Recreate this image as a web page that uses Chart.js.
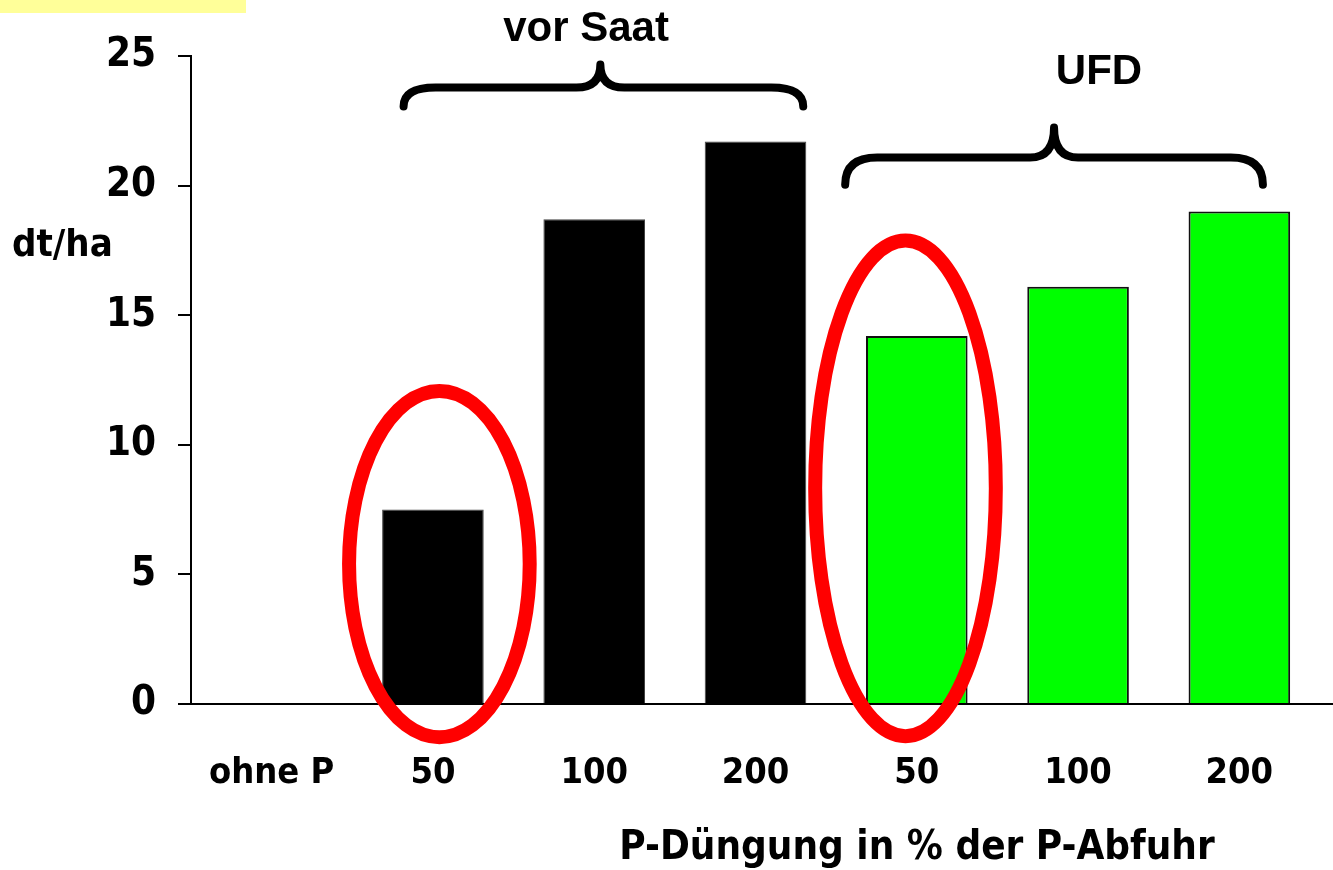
<!DOCTYPE html>
<html>
<head>
<meta charset="utf-8">
<script src="https://cdn.jsdelivr.net/npm/chart.js@4/dist/chart.umd.min.js"></script>
<style>
  html, body { margin: 0; padding: 0; background: #ffffff; }
  #wrap { position: relative; width: 1333px; height: 870px; }
</style>
</head>
<body>
<div id="wrap"><canvas id="c" width="1333" height="870"></canvas></div>
<script>
// Ertrag (dt/ha) nach P-Düngung in % der P-Abfuhr
const categories = ['ohne P', '50', '100', '200', '50', '100', '200'];
const vorSaat    = [null, 7.5, 18.7, 21.7, null, null, null];
const ufd        = [null, null, null, null, 14.2, 16.1, 19.0];
const yTicks     = [0, 5, 10, 15, 20, 25];

const groupLabels = ['vor Saat', 'UFD'];
const yUnit = 'dt/ha';
const xTitle = 'P-Düngung in % der P-Abfuhr';

const TICK_FONT = "'DejaVu Sans Condensed', 'DejaVu Sans', sans-serif";
const HEAD_FONT = "'Liberation Sans', Arial, sans-serif";

// Geschweifte Klammern über den Gruppen (x in Kategorie-Index, y in dt/ha)
const braces = [
  { x0: 0.818, x1: 3.296, xt: 2.038, yEnd: 23.05, yMid: 23.78, yTip: 24.67 },
  { x0: 3.556, x1: 6.146, xt: 4.851, yEnd: 20.03, yMid: 21.08, yTip: 22.24 }
];
// Rote Markierungen um die 50-%-Varianten
const rings = [
  { cx: 1.04, cy: 5.4,  rx: 0.56, ry: 6.68 },
  { cx: 3.93, cy: 8.32, rx: 0.56, ry: 9.56 }
];

const decor = {
  id: 'decor',
  beforeDraw(chart) {
    const ctx = chart.ctx;
    ctx.save();
    ctx.fillStyle = '#ffff99';
    ctx.fillRect(0, 0, 246, 13);
    ctx.restore();
  },
  afterDatasetsDraw(chart) {
    const { ctx, scales: { x, y } } = chart;
    ctx.save();
    ctx.strokeStyle = '#ff0000';
    ctx.lineWidth = 14;
    rings.forEach(r => {
      const cx = x.getPixelForValue(r.cx);
      const cy = y.getPixelForValue(r.cy);
      const rx = Math.abs(x.getPixelForValue(r.cx + r.rx) - cx);
      const ry = Math.abs(y.getPixelForValue(r.cy + r.ry) - cy);
      ctx.beginPath();
      ctx.ellipse(cx, cy, rx, ry, 0, 0, Math.PI * 2);
      ctx.stroke();
    });
    ctx.restore();
  },
  afterDraw(chart) {
    const { ctx, chartArea, scales: { x, y } } = chart;
    ctx.save();
    // x axis line runs on to the right edge
    ctx.strokeStyle = '#000';
    ctx.lineWidth = 2;
    ctx.beginPath();
    ctx.moveTo(chartArea.right - 1, x.top);
    ctx.lineTo(chart.width, x.top);
    ctx.stroke();

    // braces
    ctx.lineWidth = 8;
    ctx.lineCap = 'round';
    ctx.lineJoin = 'round';
    braces.forEach(b => {
      const X0 = x.getPixelForValue(b.x0), X1 = x.getPixelForValue(b.x1), XT = x.getPixelForValue(b.xt);
      const YE = y.getPixelForValue(b.yEnd), YM = y.getPixelForValue(b.yMid), YT = y.getPixelForValue(b.yTip);
      const r = 32, r2 = 24;
      ctx.beginPath();
      ctx.moveTo(X0, YE);
      ctx.quadraticCurveTo(X0, YM, X0 + r, YM);
      ctx.lineTo(XT - r2, YM);
      ctx.quadraticCurveTo(XT, YM, XT, YT);
      ctx.quadraticCurveTo(XT, YM, XT + r2, YM);
      ctx.lineTo(X1 - r, YM);
      ctx.quadraticCurveTo(X1, YM, X1, YE);
      ctx.stroke();
    });

    // group labels
    ctx.fillStyle = '#000';
    ctx.font = 'bold 42px ' + HEAD_FONT;
    ctx.textAlign = 'center';
    ctx.textBaseline = 'alphabetic';
    ctx.fillText(groupLabels[0], 586, 41);
    ctx.fillText(groupLabels[1], 1099, 84);

    // unit and axis title
    ctx.font = 'bold 38px ' + TICK_FONT;
    ctx.textAlign = 'left';
    ctx.fillText(yUnit, 12, 256);
    ctx.font = 'bold 40px ' + TICK_FONT;
    ctx.textAlign = 'center';
    ctx.fillText(xTitle, 917, 859);
    ctx.restore();
  }
};

new Chart(document.getElementById('c'), {
  type: 'bar',
  data: {
    labels: categories,
    datasets: [
      { label: 'vor Saat', data: vorSaat, backgroundColor: '#000000', borderColor: '#444444', borderWidth: 1 },
      { label: 'UFD', data: ufd, backgroundColor: '#00ff00', borderColor: '#111111', borderWidth: 2 }
    ]
  },
  options: {
    responsive: false,
    devicePixelRatio: 1,
    animation: false,
    events: [],
    layout: { padding: { left: 0, top: 56, right: 13, bottom: 0 } },
    datasets: { bar: { grouped: false, categoryPercentage: 1, barPercentage: 0.63, skipNull: true } },
    plugins: { legend: { display: false }, tooltip: { enabled: false } },
    scales: {
      x: {
        grid: { display: false },
        border: { display: true, color: '#000', width: 2 },
        ticks: { color: '#000', padding: 40, font: { family: TICK_FONT, size: 36, weight: 'bold' } },
        afterFit(s) { s.height = 870 - 704; }
      },
      y: {
        min: 0, max: 25,
        afterBuildTicks(s) { s.ticks = yTicks.map(v => ({ value: v })); },
        grid: { drawOnChartArea: false, drawTicks: true, tickLength: 13, color: '#000', lineWidth: 2 },
        border: { display: true, color: '#000', width: 2 },
        ticks: { color: '#000', padding: 22, font: { family: TICK_FONT, size: 40, weight: 'bold' } },
        afterFit(s) { s.width = 191; }
      }
    }
  },
  plugins: [decor]
});
</script>
</body>
</html>
